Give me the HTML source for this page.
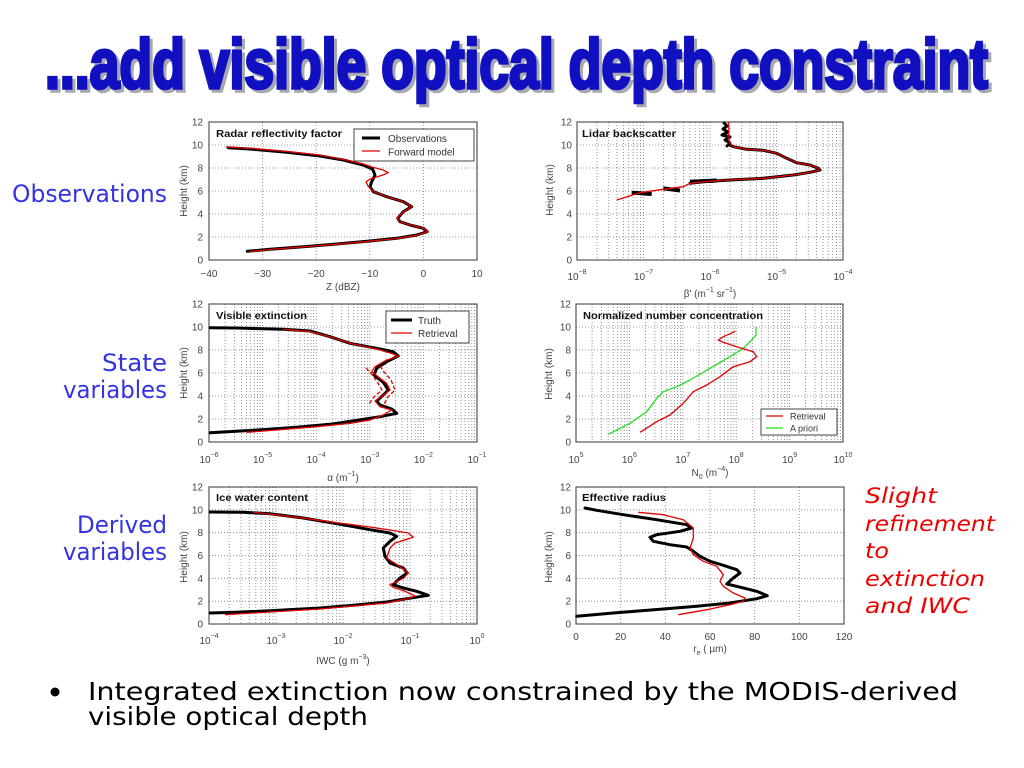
<!DOCTYPE html>
<html><head><meta charset="utf-8"><style>
html,body{margin:0;padding:0;background:#fff;}
svg{display:block;}
.t{font-family:"Liberation Sans",Arial,sans-serif;font-size:10px;fill:#444;}
.ti{font-family:"Liberation Sans",Arial,sans-serif;font-size:10px;font-weight:bold;fill:#111;}
.g{fill:none;stroke:#7a7a7a;stroke-width:0.8;stroke-dasharray:1,2;}
.ax{fill:none;stroke:#333;stroke-width:1;}
.k{fill:none;stroke:#000;stroke-width:3;stroke-linejoin:round;stroke-linecap:round;}
.r{fill:none;stroke:#e30000;stroke-width:1.3;stroke-linejoin:round;}
.gr{fill:none;stroke:#22dd22;stroke-width:1.3;stroke-linejoin:round;}
</style></head><body>
<svg width="1024" height="768" viewBox="0 0 1024 768" xmlns="http://www.w3.org/2000/svg">
<rect width="1024" height="768" fill="#fff"/>

<!-- Title -->
<text x="48" y="91" textLength="943" lengthAdjust="spacingAndGlyphs" font-family="Liberation Sans, Arial, sans-serif" font-weight="bold" font-size="70" fill="#a8a8b0" stroke="#a8a8b0" stroke-width="3.5">...add visible optical depth constraint</text>
<text x="45" y="88" textLength="943" lengthAdjust="spacingAndGlyphs" font-family="Liberation Sans, Arial, sans-serif" font-weight="bold" font-size="70" fill="#1010c0" stroke="#1010c0" stroke-width="3.5">...add visible optical depth constraint</text>

<!-- Side labels -->
<g font-family="DejaVu Sans, Liberation Sans, sans-serif" font-size="24" fill="#3333e0">
<text x="12" y="202" textLength="155" lengthAdjust="spacingAndGlyphs">Observations</text>
<text x="102" y="371" textLength="65" lengthAdjust="spacingAndGlyphs">State</text>
<text x="63" y="398" textLength="104" lengthAdjust="spacingAndGlyphs">variables</text>
<text x="77" y="533" textLength="90" lengthAdjust="spacingAndGlyphs">Derived</text>
<text x="63" y="560" textLength="104" lengthAdjust="spacingAndGlyphs">variables</text>
</g>

<!-- Red note -->
<g font-family="DejaVu Sans, Liberation Sans, sans-serif" font-style="italic" font-size="21" fill="#ee0000">
<text x="865" y="503" textLength="72" lengthAdjust="spacingAndGlyphs">Slight</text>
<text x="865" y="531" textLength="130" lengthAdjust="spacingAndGlyphs">refinement</text>
<text x="865" y="558" textLength="24" lengthAdjust="spacingAndGlyphs">to</text>
<text x="865" y="586" textLength="120" lengthAdjust="spacingAndGlyphs">extinction</text>
<text x="865" y="613" textLength="105" lengthAdjust="spacingAndGlyphs">and IWC</text>
</g>

<!-- Bullet text -->
<circle cx="55" cy="692" r="4.5" fill="#000"/>
<g font-family="DejaVu Sans, Verdana, sans-serif" font-size="25" fill="#000">
<text x="88" y="700" textLength="870" lengthAdjust="spacingAndGlyphs">Integrated extinction now constrained by the MODIS-derived</text>
<text x="88" y="725" textLength="280" lengthAdjust="spacingAndGlyphs">visible optical depth</text>
</g>

<!-- ========== PANEL 1 ========== -->
<path class="g" d="M262.6 122V260M316.2 122V260M369.8 122V260M423.4 122V260M209 145H477M209 168H477M209 191H477M209 214H477M209 237H477"/>
<rect class="ax" x="209" y="122" width="268" height="138"/>
<text class="ti" x="216" y="137" textLength="126" lengthAdjust="spacingAndGlyphs">Radar reflectivity factor</text>
<polyline class="k" points="247.3,251.3 270,249.3 303.3,246.7 336.7,244 370,241 396.7,238.3 416.7,235 427.3,231.7 423.3,228.3 410,225 400,221.7 397.7,218.3 403.3,211.7 411.7,206.7 403.3,201.7 386.7,196.7 373.3,191.7 370,186.7 371.7,181.7 375,175 372.7,169.3 363.3,165 343.3,160 320,156 286.7,152.3 253.3,149.3 228.3,147.7"/>
<polyline class="r" points="250,251.6 270,249.5 303.3,246.9 336.7,244.2 370,241.2 396.7,238.5 416.7,235.2 428,231.7 423.3,228.3 410,225 400,221.7 397,218.3 403.3,211.7 412,206.7 403.3,201.7 386.7,196.7 373.3,191.7 368,186 366,182 370,179 383,175 388.3,172.7 383,170 372,167 363.3,164 343.3,159.5 320,155 286.7,151.5 253.3,148.5 226,147"/>
<rect x="354" y="129" width="120" height="32" fill="#fff" stroke="#444" stroke-width="1"/>
<line x1="362" y1="138" x2="380" y2="138" stroke="#000" stroke-width="3"/>
<line x1="362" y1="151" x2="380" y2="151" stroke="#e30000" stroke-width="1.3"/>
<text class="t" x="388" y="142" style="fill:#333">Observations</text>
<text class="t" x="388" y="155.5" style="fill:#333">Forward model</text>
<g class="t" text-anchor="end">
<text x="203" y="263.5">0</text><text x="203" y="240.5">2</text><text x="203" y="217.5">4</text><text x="203" y="194.5">6</text><text x="203" y="171.5">8</text><text x="203" y="148.5">10</text><text x="203" y="125.5">12</text>
</g>
<g class="t" text-anchor="middle">
<text x="209" y="277">−40</text><text x="262.6" y="277">−30</text><text x="316.2" y="277">−20</text><text x="369.8" y="277">−10</text><text x="423.4" y="277">0</text><text x="477" y="277">10</text>
<text x="343" y="290">Z (dBZ)</text>
</g>
<text class="t" text-anchor="middle" transform="translate(187,191) rotate(-90)">Height (km)</text>

<!-- ========== PANEL 2 ========== -->
<path class="g" d="M597 122V260M608.7 122V260M617 122V260M623.5 122V260M628.7 122V260M633.2 122V260M637.1 122V260M640.5 122V260M643.5 122V260M663.5 122V260M675.2 122V260M683.5 122V260M690 122V260M695.2 122V260M699.7 122V260M703.6 122V260M707 122V260M710 122V260M730 122V260M741.7 122V260M750 122V260M756.5 122V260M761.7 122V260M766.2 122V260M770.1 122V260M773.5 122V260M776.5 122V260M796.5 122V260M808.2 122V260M816.5 122V260M823 122V260M828.2 122V260M832.7 122V260M836.6 122V260M840 122V260M577 145H843M577 168H843M577 191H843M577 214H843M577 237H843"/>
<rect class="ax" x="577" y="122" width="266" height="138"/>
<text class="ti" x="582" y="137" textLength="94" lengthAdjust="spacingAndGlyphs">Lidar backscatter</text>
<polyline class="k" points="724,123 727,126 723,129 728,132 722,135 730,137 725,140 730,143 727,146"/>
<polyline class="k" points="730,145 733.3,146.7 746.7,149.3 763.3,150.3 776.7,153.3 786.7,158.3 796.7,162.7 810,165 818.3,168.3 820,170 810,172.3 793.3,175 763.3,178.3 730,180 703.3,181.7 690,183.3"/>
<line x1="690" y1="181.7" x2="716.7" y2="180.5" stroke="#000" stroke-width="4"/>
<line x1="663.3" y1="188.3" x2="680" y2="190.5" stroke="#000" stroke-width="4"/>
<line x1="631.7" y1="192.7" x2="651.7" y2="194" stroke="#000" stroke-width="4"/>
<polyline class="r" points="728.3,122 729,130 728,137 730,143.3 733.3,146.7 746.7,149.3 763.3,150.3 776.7,153.3 786.7,158.3 796.7,162.7 810,165 818.3,168.3 820,170 810,172.3 793.3,175 763.3,178.3 730,180 703.3,181.7 690,183.3 683.3,186.7 663.3,189.3 640,192.7 616.7,200"/>
<g class="t" text-anchor="end">
<text x="572" y="263.5">0</text><text x="572" y="240.5">2</text><text x="572" y="217.5">4</text><text x="572" y="194.5">6</text><text x="572" y="171.5">8</text><text x="572" y="148.5">10</text><text x="572" y="125.5">12</text>
</g>
<g class="t" text-anchor="middle">
<text x="577" y="280">10<tspan dy="-6" font-size="7">−8</tspan></text>
<text x="643.5" y="280">10<tspan dy="-6" font-size="7">−7</tspan></text>
<text x="710" y="280">10<tspan dy="-6" font-size="7">−6</tspan></text>
<text x="776.5" y="280">10<tspan dy="-6" font-size="7">−5</tspan></text>
<text x="843" y="280">10<tspan dy="-6" font-size="7">−4</tspan></text>
<text x="710" y="297">β' (m<tspan dy="-5" font-size="7">−1</tspan><tspan dy="5"> sr</tspan><tspan dy="-5" font-size="7">−1</tspan><tspan dy="5">)</tspan></text>
</g>
<text class="t" text-anchor="middle" transform="translate(553,190) rotate(-90)">Height (km)</text>

<!-- ========== PANEL 3 ========== -->
<path class="g" d="M225.1 304V442M234.6 304V442M241.3 304V442M246.5 304V442M250.7 304V442M254.3 304V442M257.4 304V442M260.1 304V442M262.6 304V442M278.7 304V442M288.2 304V442M294.9 304V442M300.1 304V442M304.3 304V442M307.9 304V442M311 304V442M313.7 304V442M316.2 304V442M332.3 304V442M341.8 304V442M348.5 304V442M353.7 304V442M357.9 304V442M361.5 304V442M364.6 304V442M367.3 304V442M369.8 304V442M385.9 304V442M395.4 304V442M402.1 304V442M407.3 304V442M411.5 304V442M415.1 304V442M418.2 304V442M420.9 304V442M423.4 304V442M439.5 304V442M449 304V442M455.7 304V442M460.9 304V442M465.1 304V442M468.7 304V442M471.8 304V442M474.5 304V442M209 327H477M209 350H477M209 373H477M209 396H477M209 419H477"/>
<rect class="ax" x="209" y="304" width="268" height="138"/>
<text class="ti" x="216" y="319" textLength="91" lengthAdjust="spacingAndGlyphs">Visible extinction</text>
<polyline class="k" points="210,432.7 253.3,430.3 296.7,427.3 330,424.3 356.7,420.3 380,416.7 396.7,413.3 391.7,409 380,405 376.7,401 383.3,395 388.3,390 383.3,382.3 374,375 376.7,368.3 386.7,361.7 398.3,356 393.3,351.7 376.7,348.3 350,343.3 330,336.7 310,331 283.3,329.3 236.7,328 210,327.7"/>
<polyline class="r" points="283.3,329.3 310,331.7 330,336.7 350,343.3 376.7,349 393.3,354 398.3,356.5 386.7,360 375,366.7 371.7,371.7 380,378.3 386.7,383.3 390,390 383.3,395 375,401 380,406.7 391.7,410 383.3,415 370,420 350,423.3 316.7,426.7 276.7,430 246.7,432.3"/>
<polyline class="r" stroke-dasharray="4,2" points="366,368 370,372 376,380 382,390 374,397 369,404"/>
<polyline class="r" stroke-dasharray="4,2" points="380,366 384,372 391,380 395,390 388,397 384,404"/>
<rect x="386" y="311" width="83" height="32" fill="#fff" stroke="#444" stroke-width="1"/>
<line x1="391" y1="320" x2="412" y2="320" stroke="#000" stroke-width="3"/>
<line x1="391" y1="333" x2="412" y2="333" stroke="#e30000" stroke-width="1.3"/>
<text class="t" x="418" y="324" style="fill:#333">Truth</text>
<text class="t" x="418" y="337" style="fill:#333">Retrieval</text>
<g class="t" text-anchor="end">
<text x="203" y="445.5">0</text><text x="203" y="422.5">2</text><text x="203" y="399.5">4</text><text x="203" y="376.5">6</text><text x="203" y="353.5">8</text><text x="203" y="330.5">10</text><text x="203" y="307.5">12</text>
</g>
<g class="t" text-anchor="middle">
<text x="209" y="463">10<tspan dy="-6" font-size="7">−6</tspan></text>
<text x="262.6" y="463">10<tspan dy="-6" font-size="7">−5</tspan></text>
<text x="316.2" y="463">10<tspan dy="-6" font-size="7">−4</tspan></text>
<text x="369.8" y="463">10<tspan dy="-6" font-size="7">−3</tspan></text>
<text x="423.4" y="463">10<tspan dy="-6" font-size="7">−2</tspan></text>
<text x="477" y="463">10<tspan dy="-6" font-size="7">−1</tspan></text>
<text x="343" y="481">α (m<tspan dy="-5" font-size="7">−1</tspan><tspan dy="5">)</tspan></text>
</g>
<text class="t" text-anchor="middle" transform="translate(187,373) rotate(-90)">Height (km)</text>

<!-- ========== PANEL 4 ========== -->
<path class="g" d="M592.1 304V442M601.5 304V442M608.1 304V442M613.3 304V442M617.6 304V442M621.1 304V442M624.2 304V442M627 304V442M629.4 304V442M645.5 304V442M654.9 304V442M661.5 304V442M666.7 304V442M671 304V442M674.5 304V442M677.6 304V442M680.4 304V442M682.8 304V442M698.9 304V442M708.3 304V442M714.9 304V442M720.1 304V442M724.4 304V442M727.9 304V442M731 304V442M733.8 304V442M736.2 304V442M752.3 304V442M761.7 304V442M768.3 304V442M773.5 304V442M777.8 304V442M781.3 304V442M784.4 304V442M787.2 304V442M789.6 304V442M805.7 304V442M815.1 304V442M821.7 304V442M826.9 304V442M831.2 304V442M834.7 304V442M837.8 304V442M840.6 304V442M576 327H843M576 350H843M576 373H843M576 396H843M576 419H843"/>
<rect class="ax" x="576" y="304" width="267" height="138"/>
<text class="ti" x="583" y="319" textLength="180" lengthAdjust="spacingAndGlyphs">Normalized number concentration</text>
<polyline class="gr" points="608.3,434.3 630,423.3 646.7,411.7 656.7,398.3 663.3,391.7 676.7,386.7 690,380 710,368.3 730,356.7 743.3,348.3 753.3,338.3 756,335 756,326.7"/>
<polyline class="r" points="640,432.3 656.7,421.7 670,415 683.3,403.3 693.3,391.7 706.7,385 720,376.7 733.3,366.7 750,361.7 756.7,356.7 753.3,351.7 736.7,346.7 721.7,341.7 718.3,340 723.3,336.7 733.3,332.3 735,331"/>
<rect x="761" y="409" width="76" height="26" fill="#fff" stroke="#444" stroke-width="1"/>
<line x1="766" y1="416" x2="783" y2="416" stroke="#e30000" stroke-width="1.3"/>
<line x1="766" y1="428" x2="783" y2="428" stroke="#22dd22" stroke-width="1.3"/>
<text class="t" x="790" y="419.5" style="font-size:9px;fill:#333">Retrieval</text>
<text class="t" x="790" y="431.5" style="font-size:9px;fill:#333">A priori</text>
<g class="t" text-anchor="end">
<text x="571" y="445.5">0</text><text x="571" y="422.5">2</text><text x="571" y="399.5">4</text><text x="571" y="376.5">6</text><text x="571" y="353.5">8</text><text x="571" y="330.5">10</text><text x="571" y="307.5">12</text>
</g>
<g class="t" text-anchor="middle">
<text x="576" y="463">10<tspan dy="-6" font-size="7">5</tspan></text>
<text x="629.4" y="463">10<tspan dy="-6" font-size="7">6</tspan></text>
<text x="682.8" y="463">10<tspan dy="-6" font-size="7">7</tspan></text>
<text x="736.2" y="463">10<tspan dy="-6" font-size="7">8</tspan></text>
<text x="789.6" y="463">10<tspan dy="-6" font-size="7">9</tspan></text>
<text x="843" y="463">10<tspan dy="-6" font-size="7">10</tspan></text>
<text x="710" y="476">N<tspan dy="3" font-size="7">0</tspan><tspan dy="-3"> (m</tspan><tspan dy="-5" font-size="7">−4</tspan><tspan dy="5">)</tspan></text>
</g>
<text class="t" text-anchor="middle" transform="translate(552,374) rotate(-90)">Height (km)</text>

<!-- ========== PANEL 5 ========== -->
<path class="g" d="M229.2 487V624M241 487V624M249.3 487V624M255.8 487V624M261.1 487V624M265.6 487V624M269.5 487V624M272.9 487V624M276 487V624M296.2 487V624M308 487V624M316.3 487V624M322.8 487V624M328.1 487V624M332.6 487V624M336.5 487V624M339.9 487V624M343 487V624M363.2 487V624M375 487V624M383.3 487V624M389.8 487V624M395.1 487V624M399.6 487V624M403.5 487V624M406.9 487V624M410 487V624M430.2 487V624M442 487V624M450.3 487V624M456.8 487V624M462.1 487V624M466.6 487V624M470.5 487V624M473.9 487V624M209 509.8H477M209 532.7H477M209 555.5H477M209 578.3H477M209 601.2H477"/>
<rect class="ax" x="209" y="487" width="268" height="137"/>
<text class="ti" x="216" y="501" textLength="92" lengthAdjust="spacingAndGlyphs">Ice water content</text>
<polyline class="k" points="210,613 236.7,612.3 270,610.7 320,608 353.3,605.3 386.7,602 406.7,598.7 428.3,595.3 416.7,591.3 403.3,588 393.3,584.7 400,578 407.3,573 403.3,568 390,563 385,556.3 383.3,548 390,541.3 396.7,536.3 390,533 370,529.7 336.7,523.7 303.3,518 270,513.7 243.3,512.3 210,512"/>
<polyline class="r" points="225,614.7 270,612 320,609 353.3,606 386.7,603 406.7,598.7 415,596 405,591.3 393.3,587.3 390,584.7 403.3,578.3 408.3,573 400,566.7 386.7,558 390,548 395,543 413.3,537.3 408.3,533 390,530 370,527 336.7,522.7 300,517.7 253.3,512.3"/>
<g class="t" text-anchor="end">
<text x="203" y="627.5">0</text><text x="203" y="604.7">2</text><text x="203" y="581.8">4</text><text x="203" y="559">6</text><text x="203" y="536.2">8</text><text x="203" y="513.3">10</text><text x="203" y="490.5">12</text>
</g>
<g class="t" text-anchor="middle">
<text x="209" y="644">10<tspan dy="-6" font-size="7">−4</tspan></text>
<text x="276" y="644">10<tspan dy="-6" font-size="7">−3</tspan></text>
<text x="343" y="644">10<tspan dy="-6" font-size="7">−2</tspan></text>
<text x="410" y="644">10<tspan dy="-6" font-size="7">−1</tspan></text>
<text x="477" y="644">10<tspan dy="-6" font-size="7">0</tspan></text>
<text x="343" y="664">IWC (g m<tspan dy="-5" font-size="7">−3</tspan><tspan dy="5">)</tspan></text>
</g>
<text class="t" text-anchor="middle" transform="translate(187,557) rotate(-90)">Height (km)</text>

<!-- ========== PANEL 6 ========== -->
<path class="g" d="M620.7 487V624M665.3 487V624M710 487V624M754.7 487V624M799.3 487V624M576 509.8H844M576 532.7H844M576 555.5H844M576 578.3H844M576 601.2H844"/>
<rect class="ax" x="576" y="487" width="268" height="137"/>
<text class="ti" x="582" y="501" textLength="84" lengthAdjust="spacingAndGlyphs">Effective radius</text>
<polyline class="k" points="576.7,616.3 613.3,613 663.3,609 696.7,606.3 730,603 756.7,598.7 767.3,595.7 756.7,591.3 736.7,586.3 726.7,584 733.3,578 740,573 736.7,569.7 723.3,565.3 710,561.3 700,556.3 693.3,551.3 686.7,547 670,544.7 653.3,541.3 650,537.3 656.7,534.7 680,531.3 691.7,528 686.7,524.7 656.7,519.7 623.3,514.7 596.7,510.3 585,508"/>
<polyline class="r" points="678.3,614.7 706.7,609.7 730,604.7 743.3,601.3 745,598 733.3,593 723.3,586.3 720,581.3 723.3,574.7 716.7,566.3 703.3,561.3 693.3,554.7 690,548 693.3,538 693.3,528 683.3,519.7 663.3,514.7 638.3,512.3"/>
<g class="t" text-anchor="end">
<text x="571" y="627.5">0</text><text x="571" y="604.7">2</text><text x="571" y="581.8">4</text><text x="571" y="559">6</text><text x="571" y="536.2">8</text><text x="571" y="513.3">10</text><text x="571" y="490.5">12</text>
</g>
<g class="t" text-anchor="middle">
<text x="576" y="640">0</text><text x="620.7" y="640">20</text><text x="665.3" y="640">40</text><text x="710" y="640">60</text><text x="754.7" y="640">80</text><text x="799.3" y="640">100</text><text x="844" y="640">120</text>
<text x="710" y="652">r<tspan dy="3" font-size="7">e</tspan><tspan dy="-3"> ( µm)</tspan></text>
</g>
<text class="t" text-anchor="middle" transform="translate(552,557) rotate(-90)">Height (km)</text>

</svg>
</body></html>
